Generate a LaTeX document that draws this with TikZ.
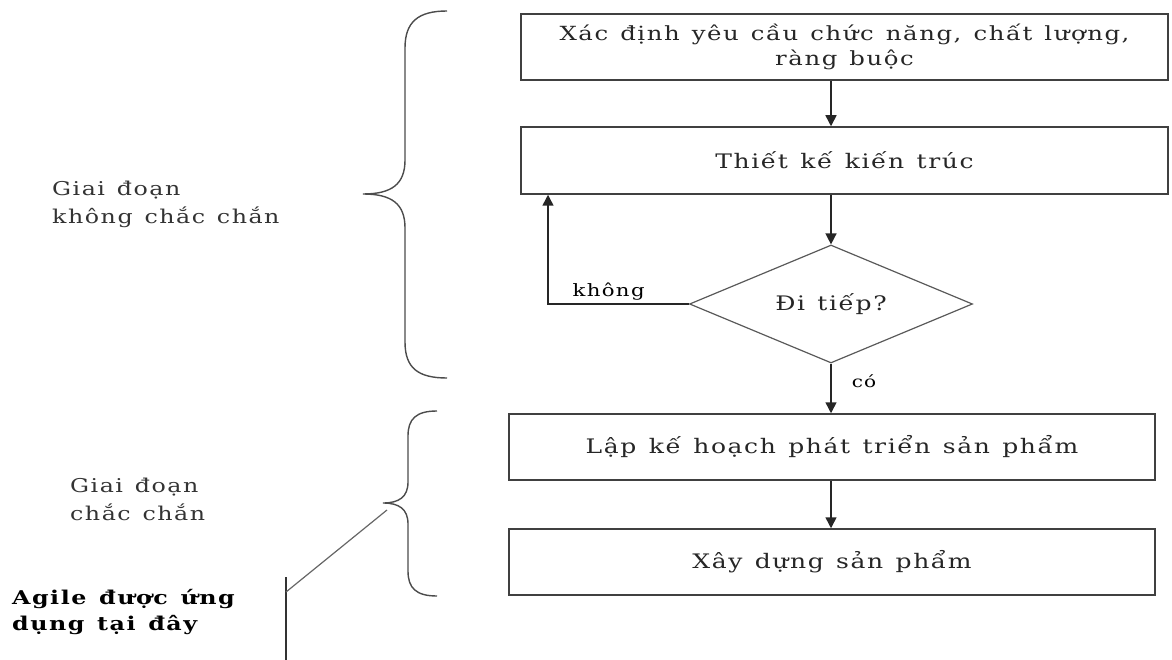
\documentclass[tikz,border=0pt]{standalone}
\usepackage{fontspec}
\setmainfont{DejaVu Serif}[FakeStretch=1.25,LetterSpace=8,WordSpace=1.3]
\usetikzlibrary{shapes.geometric,arrows.meta}

\begin{document}
\begin{tikzpicture}[x=1pt,y=-1pt,
  procbox/.style={draw=black!75, line width=1.5pt, minimum width=646pt, minimum height=66pt,
    inner sep=0pt, align=center, text=black!85, font=\fontsize{20}{25}\selectfont},
  decision/.style={diamond, aspect=2.4, draw=black!65, line width=1.2pt, minimum width=283pt,
    minimum height=118pt, inner sep=0pt, text=black!85, font=\fontsize{20}{25}\selectfont},
  flow/.style={draw=black!85, line width=1.5pt, -{Triangle[length=11pt,width=11pt]}},
  phase/.style={anchor=west, align=left, inner sep=0pt, text=black!80,
    font=\fontsize{19}{28}\selectfont},
  brace/.style={draw=black!70, line width=1.4pt}]

  % Fix the size of the picture
  \useasboundingbox (0,0) rectangle (1172,660);

  % Draw the steps of the process
  \node[procbox, minimum width=647pt, font=\fontsize{19.5}{25}\selectfont] (req) at (844.5,47) {Xác định yêu cầu chức năng, chất lượng,\\ràng buộc};
  \node[procbox, minimum width=647pt, minimum height=67pt] (arch) at (844.5,160.5) {Thiết kế kiến trúc};
  \node[decision] (go) at (831,304) {Đi tiếp?};
  \node[procbox] (plan) at (832,447) {Lập kế hoạch phát triển sản phẩm};
  \node[procbox] (build) at (832,562) {Xây dựng sản phẩm};

  % Draw the arrows between the steps
  \draw[flow] (go.north |- req.south) -- (go.north |- arch.north);
  \draw[flow] (go.north |- arch.south) -- (go.north);
  \draw[flow] (go.south) -- node[right=20pt, pos=0.35, inner sep=0pt, font=\fontsize{16}{18}\selectfont] (yes) {có} (go.south |- plan.north);
  \draw[flow] (go.south |- plan.south) -- (go.south |- build.north);

  % Go back when the answer is no
  \coordinate (back) at (548,304);
  \draw[flow] (go.west) -- node[above=3pt, pos=0.57, inner sep=0pt, font=\fontsize{17}{18}\selectfont] (no) {không} (back) -- (back |- arch.south);

  % Draw the braces of the two phases
  \draw[brace] (447,11) .. controls (418,11) and (405,22) .. (405,48) -- (405,160)
    .. controls (405,184) and (392,194) .. (363,194)
    .. controls (392,194) and (405,204) .. (405,228) -- (405,342)
    .. controls (405,368) and (418,378) .. (447,378);
  \draw[brace] (437,411) .. controls (416,411) and (408,419) .. (408,436) -- (408,482)
    .. controls (408,497) and (399,503) .. (383,503)
    .. controls (399,503) and (408,509) .. (408,524) -- (408,571)
    .. controls (408,588) and (416,596) .. (437,596);

  % Name the phases
  \node[phase] (unsure) at (52,204) {Giai đoạn\\không chắc chắn};
  \node[phase] (sure) at (70,499) {Giai đoạn\\chắc chắn};
  \node[phase, font=\bfseries\fontsize{19}{26}\selectfont, text=black] (agile) at (12,612) {Agile được ứng\\dụng tại đây};

  % Point from the note to the second brace
  \coordinate (post) at (286,577);
  \coordinate (postend) at (286,660);
  \coordinate (knee) at (286,592);
  \coordinate (tip) at (387,510);
  \draw[draw=black!80, line width=1.4pt] (post) -- (postend);
  \draw[draw=black!60, line width=1.2pt] (knee) -- (tip);

\end{tikzpicture}
\end{document}
